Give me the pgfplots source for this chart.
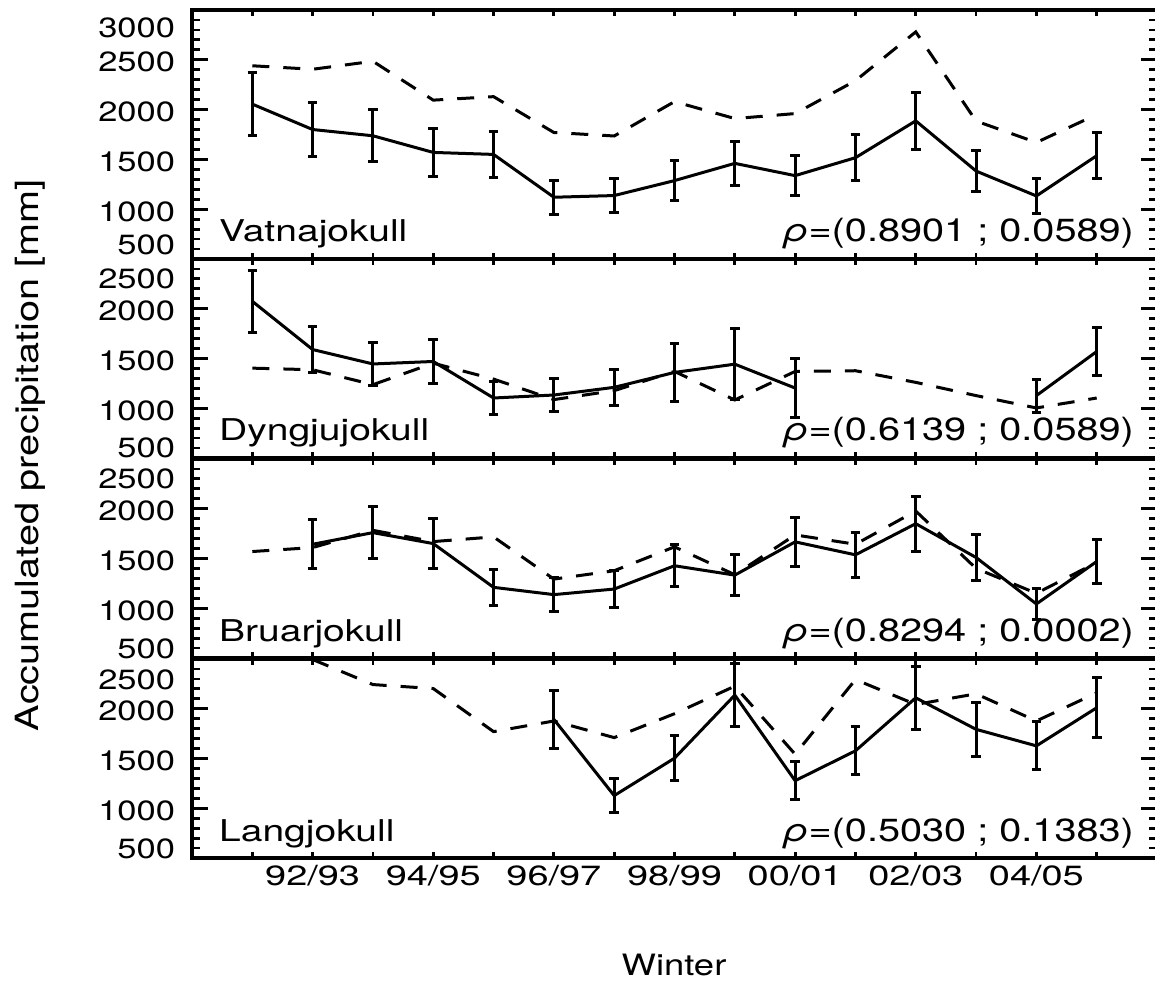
\documentclass[border=0pt]{standalone}
\usepackage{pgfplots}
\pgfplotsset{compat=1.18}
\usepackage{pgfplotstable}
\usepackage{fontspec}
\setmainfont{TeX Gyre Heros}[FakeStretch=1.24]

% panel 1: x, value, error, dashed
\pgfplotstableread{
x s e d
1 2055 315 2440
2 1800 272 2405
3 1737 263 2485
4 1570 240 2095
5 1550 233 2130
6 1120 172 1770
7 1137 172 1735
8 1287 197 2080
9 1460 222 1910
10 1337 200 1960
11 1517 228 2290
12 1887 283 2780
13 1383 210 1885
14 1133 175 1670
15 1537 230 1950
}\vatA
% panel 2
\pgfplotstableread{
x s e
1 2075 313
2 1590 235
3 1445 213
4 1470 220
5 1103 167
6 1133 168
7 1210 180
8 1360 290
9 1443 358
10 1203 298
}\dynA
\pgfplotstableread{
x s e
14 1127 165
15 1570 237
}\dynB
\pgfplotstableread{
x d
1 1403
2 1387
3 1237
4 1453
5 1293
6 1087
7 1177
8 1370
9 1083
10 1370
11 1377
12 1260
13 1127
14 1003
15 1103
}\dynD
% panel 3
\pgfplotstableread{
x s e
2 1643 245
3 1760 262
4 1650 247
5 1210 180
6 1137 168
7 1193 183
8 1427 213
9 1333 203
10 1667 250
11 1537 228
12 1850 275
13 1510 228
14 1043 155
15 1470 220
}\bruA
\pgfplotstableread{
x d
1 1570
2 1610
3 1783
4 1670
5 1717
6 1293
7 1377
8 1617
9 1337
10 1737
11 1643
12 1977
13 1400
14 1150
15 1460
}\bruD
% panel 4
\pgfplotstableread{
x s e
6 1893 288
7 1127 170
8 1503 228
9 2137 320
10 1277 192
11 1577 242
12 2110 316
13 1793 270
14 1627 242
15 2010 300
}\lanA
\pgfplotstableread{
x d
2 2495
3 2243
4 2203
5 1770
6 1877
7 1710
8 1950
9 2227
10 1543
11 2293
12 2043
13 2150
14 1877
15 2160
}\lanD

\newcommand\ylab[1]{\pgfmathtruncatemacro\yv{#1}%
  \ifnum\yv=500 \raisebox{\botd}[0pt][0pt]{500}%
  \else\ifnum\yv=\topv\relax \raisebox{\topd}[0pt][0pt]{\yv}%
  \else\raisebox{-6pt}[0pt][0pt]{\yv}\fi\fi}
\newcommand\xl[1]{\scalebox{1.1}[1]{#1}}

\pgfplotsset{
  panel/.style={
    scale only axis, width=482.5pt,
    xmin=0, xmax=16, ymin=500,
    axis line style={line width=1.8pt},
    tick style={line width=1.4pt, black},
    tick align=inside,
    major tick length=3pt,
    y tick style={/pgfplots/major tick length=8pt, /pgfplots/minor tick length=4pt},
    xtick={1,...,15}, xticklabels={},
    minor y tick num=4,
    yticklabel={\ylab{\tick}},
    yticklabel style={font=\fontsize{13.9}{14}\selectfont, xshift=-5pt},
    xticklabel style={font=\fontsize{13.9}{14}\selectfont},
  },
  obs/.style={black, line width=1.5pt, mark=none,
    error bars/.cd, y dir=both, y explicit,
    error bar style={line width=1.5pt},
    error mark=-,
    error mark options={rotate=90, black, line width=1.5pt, mark size=2.4pt}},
  mod/.style={black, line width=1.5pt, dash pattern=on 8.5pt off 7pt},
}
\newcommand\gname[1]{\node[anchor=base west, font=\fontsize{15}{15}\selectfont]
  at ([xshift=10pt, yshift=8.5pt]rel axis cs:0,0) {\scalebox{1.05}[1]{#1}};}
\newcommand\corr[2]{\node[anchor=base east, font=\fontsize{16}{16}\selectfont]
  at ([xshift=-8pt, yshift=8.5pt]rel axis cs:1,0) {\itshape ρ\upshape=(#1 ; #2)};}

\begin{document}
\begin{tikzpicture}

\def\topv{3000}\def\topd{-14pt}\def\botd{2pt}
\begin{axis}[panel, at={(96pt,360.5pt)}, anchor=south west, height=124.5pt,
  ymax=3000, ytick={500,1000,...,3000}]
\addplot[mod] table[x=x, y=d] {\vatA};
\addplot[obs] table[x=x, y=s, y error=e] {\vatA};
\gname{Vatnajokull}
\corr{0.8901}{0.0589}
\end{axis}

\def\topv{2500}\def\topd{-15pt}\def\botd{0pt}
\begin{axis}[panel, at={(96pt,261pt)}, anchor=south west, height=99.5pt,
  ymax=2500, ytick={500,1000,...,2500}]
\addplot[mod] table[x=x, y=d] {\dynD};
\addplot[obs] table[x=x, y=s, y error=e] {\dynA};
\addplot[obs] table[x=x, y=s, y error=e] {\dynB};
\gname{Dyngjujokull}
\corr{0.6139}{0.0589}
\end{axis}

\begin{axis}[panel, at={(96pt,161pt)}, anchor=south west, height=99.5pt,
  ymax=2500, ytick={500,1000,...,2500}]
\addplot[mod] table[x=x, y=d] {\bruD};
\addplot[obs] table[x=x, y=s, y error=e] {\bruA};
\gname{Bruarjokull}
\corr{0.8294}{0.0002}
\end{axis}

\begin{axis}[panel, at={(96pt,61pt)}, anchor=south west, height=99.5pt,
  ymax=2500, ytick={500,1000,...,2500},
  xticklabels={,\xl{92/93},,\xl{94/95},,\xl{96/97},,\xl{98/99},,\xl{00/01},,\xl{02/03},,\xl{04/05},}]
\addplot[mod] table[x=x, y=d] {\lanD};
\addplot[obs] table[x=x, y=s, y error=e] {\lanA};
\gname{Langjokull}
\corr{0.5030}{0.1383}
\end{axis}

\node[anchor=base, font=\fontsize{14.7}{15}\selectfont] at (337pt,2.5pt) {Winter};
\node[rotate=90, font=\fontsize{16}{16}\selectfont] at (15pt,262.5pt) {Accumulated precipitation [mm]};

\pgfresetboundingbox
\path[use as bounding box] (0,0) rectangle (577.5pt,490pt);
\end{tikzpicture}
\end{document}
